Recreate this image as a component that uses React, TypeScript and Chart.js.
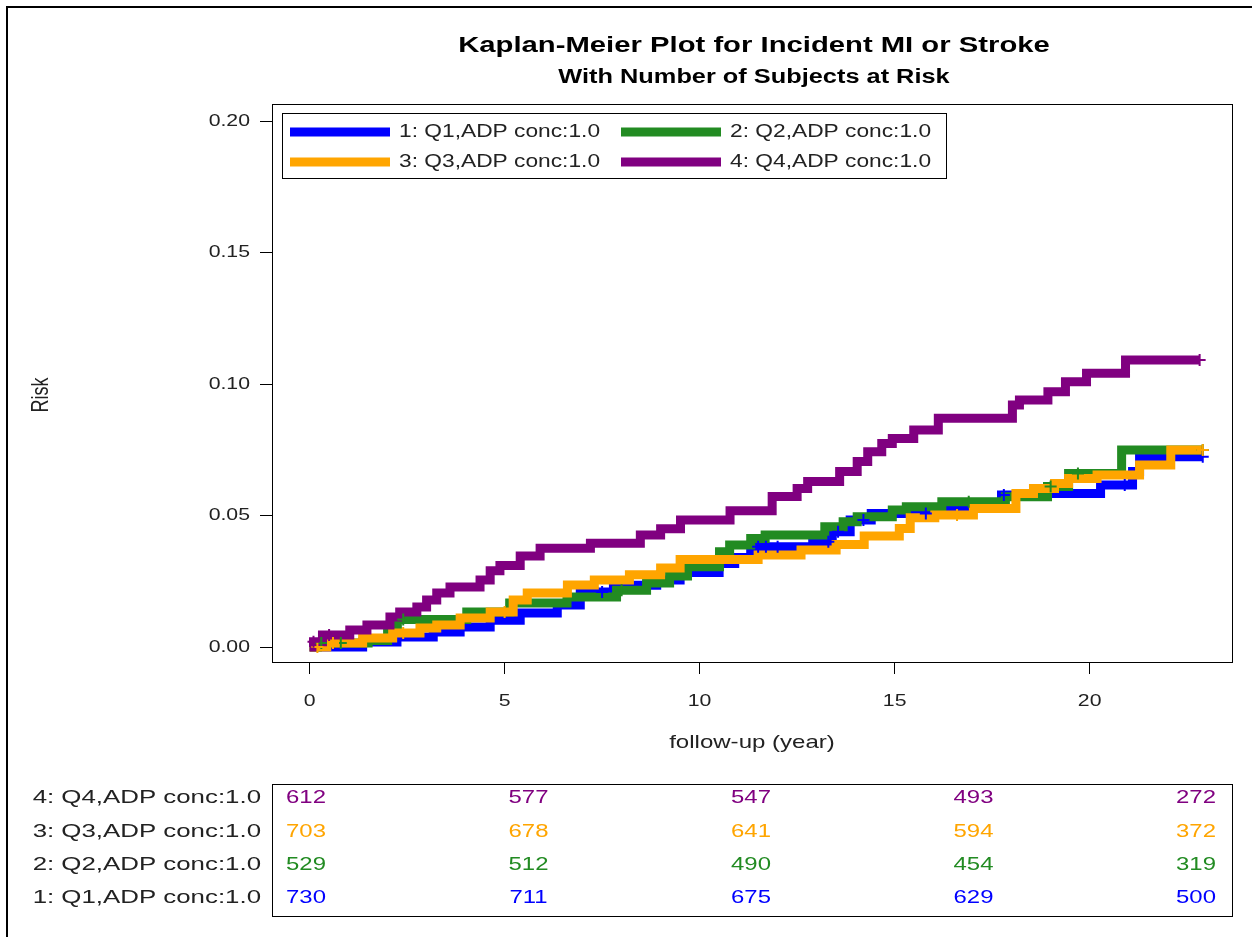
import React, { useEffect, useRef } from "react";
import { Chart, registerables } from "chart.js";
Chart.register(...registerables);

const TITLE = "Kaplan-Meier Plot for Incident MI or Stroke";
const SUBTITLE = "With Number of Subjects at Risk";
const X_TITLE = "follow-up (year)";
const Y_TITLE = "Risk";
const GROUPS = ["1: Q1,ADP conc:1.0", "2: Q2,ADP conc:1.0", "3: Q3,ADP conc:1.0", "4: Q4,ADP conc:1.0"];
const COLORS = ["#0000FF", "#228B22", "#FFA500", "#800080"];
const X_TICKS = [0, 5, 10, 15, 20];
const Y_TICKS = [0, 0.05, 0.1, 0.15, 0.2];

// Step curves (time in years, cumulative risk)
const Q1_T = [0, 1.36, 2.24, 3.17, 3.86, 4.63, 5.4, 6.35, 6.94, 7.79, 8.9, 9.5, 10.5, 10.9, 11.31, 12.9, 13.4, 13.86, 14.4, 16.03, 17.74, 18.84, 20.28, 21.1, 21.28, 22.9];
const Q1_R = [0, 0.0019, 0.0038, 0.0057, 0.0076, 0.0102, 0.0129, 0.016, 0.0209, 0.0235, 0.0255, 0.0283, 0.0318, 0.034, 0.0381, 0.04, 0.0438, 0.0483, 0.0508, 0.0527, 0.0578, 0.0584, 0.0616, 0.0667, 0.0724, 0.0724];
const Q2_T = [0, 0.2, 1.5, 2.0, 2.25, 4.03, 5.13, 6.6, 7.87, 8.64, 9.23, 9.69, 10.51, 10.77, 11.31, 11.68, 13.21, 13.68, 14.04, 14.94, 15.3, 16.21, 17.84, 18.92, 19.46, 20.82, 22.9];
const Q2_R = [0, 0.0015, 0.0025, 0.006, 0.0105, 0.0133, 0.0167, 0.019, 0.0216, 0.0243, 0.027, 0.0305, 0.0362, 0.0388, 0.0413, 0.0426, 0.0457, 0.0476, 0.0495, 0.0521, 0.0533, 0.0552, 0.0571, 0.061, 0.066, 0.0749, 0.0749];
const Q3_T = [0, 0.44, 1.36, 2.13, 2.83, 3.26, 3.86, 4.63, 5.22, 5.58, 6.61, 7.3, 8.2, 9.0, 9.5, 11.5, 12.6, 13.5, 14.22, 15.12, 15.4, 16.03, 17.02, 18.11, 18.56, 19.1, 19.46, 20.19, 21.28, 22.08, 22.9];
const Q3_R = [0, 0.0015, 0.0034, 0.0053, 0.0072, 0.0084, 0.011, 0.0133, 0.0179, 0.0205, 0.0236, 0.0255, 0.0275, 0.03, 0.0333, 0.035, 0.0369, 0.039, 0.0422, 0.0451, 0.0492, 0.0502, 0.0527, 0.0584, 0.0603, 0.0622, 0.0641, 0.0654, 0.0692, 0.0749, 0.0749];
const Q4_T = [0, 0.1, 0.33, 1.03, 1.47, 2.06, 2.31, 2.75, 3.0, 3.26, 3.6, 4.37, 4.63, 4.88, 5.4, 5.91, 7.2, 8.48, 9.0, 9.51, 10.78, 11.86, 12.5, 12.77, 13.59, 14.04, 14.31, 14.67, 14.94, 15.49, 16.12, 18.02, 18.2, 18.93, 19.38, 19.92, 20.92, 22.82];
const Q4_R = [0, 0.002, 0.0046, 0.0065, 0.0084, 0.0114, 0.0133, 0.0152, 0.0179, 0.0205, 0.0228, 0.0255, 0.029, 0.031, 0.0346, 0.0376, 0.0395, 0.0426, 0.045, 0.0483, 0.0518, 0.0572, 0.0603, 0.0629, 0.0667, 0.0705, 0.0743, 0.0774, 0.0793, 0.0825, 0.087, 0.092, 0.0939, 0.0971, 0.1009, 0.1041, 0.1091, 0.1091];

// Censoring times (+ marks)
const Q1_CENSOR = [7.5, 11.5, 11.7, 12.0, 13.3, 13.55, 14.2, 15.8, 17.8, 20.9, 22.9];
const Q2_CENSOR = [0.3, 0.8, 2.4, 8.0, 16.9, 19.0, 19.7, 22.9];
const Q3_CENSOR = [0.2, 0.6, 2.4, 5.0, 16.6, 22.9];
const Q4_CENSOR = [0.1, 0.5, 22.82];

// Number at risk table
const AT_RISK_Q1 = [730, 711, 675, 629, 500];
const AT_RISK_Q2 = [529, 512, 490, 454, 319];
const AT_RISK_Q3 = [703, 678, 641, 594, 372];
const AT_RISK_Q4 = [612, 577, 547, 493, 272];

const FONT = '"Liberation Sans", Arial, Helvetica, sans-serif';

function stepValue(T: number[], R: number[], t: number) {
  let v = R[0];
  for (let i = 0; i < T.length; i++) if (T[i] <= t) v = R[i];
  return v;
}

function txt(ctx: CanvasRenderingContext2D, s: string, x: number, y: number, font: string, color: string, align: CanvasTextAlign, sx: number, rot = 0) {
  ctx.save();
  ctx.font = font;
  ctx.fillStyle = color;
  ctx.textAlign = align;
  ctx.textBaseline = "middle";
  ctx.translate(x, y);
  ctx.scale(sx, 1);
  if (rot) ctx.rotate(rot);
  ctx.fillText(s, 0, 0);
  ctx.restore();
}

export default function App() {
  const ref = useRef<HTMLCanvasElement | null>(null);
  useEffect(() => {
    if (!ref.current) return;
    const series = [
      { T: Q1_T, R: Q1_R, C: Q1_CENSOR, risk: AT_RISK_Q1 },
      { T: Q2_T, R: Q2_R, C: Q2_CENSOR, risk: AT_RISK_Q2 },
      { T: Q3_T, R: Q3_R, C: Q3_CENSOR, risk: AT_RISK_Q3 },
      { T: Q4_T, R: Q4_R, C: Q4_CENSOR, risk: AT_RISK_Q4 },
    ];
    const datasets: any[] = [];
    series.forEach((s, i) => {
      datasets.push({
        label: GROUPS[i],
        data: s.T.map((t, k) => ({ x: t, y: s.R[k] })),
        borderColor: COLORS[i],
        backgroundColor: COLORS[i],
        borderWidth: 9,
        stepped: "before",
        pointRadius: 0,
        borderJoinStyle: "miter",
        borderCapStyle: "butt",
        fill: false,
        order: 8 - i,
      });
    });
    series.forEach((s, i) => {
      datasets.push({
        label: GROUPS[i] + " censored",
        data: s.C.map((t) => ({ x: t, y: stepValue(s.T, s.R, t) })),
        showLine: false,
        pointStyle: "cross",
        pointRadius: 6,
        pointBorderWidth: 2,
        borderColor: COLORS[i],
        backgroundColor: COLORS[i],
        order: 4 - i,
      });
    });

    const overlay = {
      id: "overlay",
      afterDraw(chart: any) {
        const ctx: CanvasRenderingContext2D = chart.ctx;
        const ca = chart.chartArea;
        const xs = chart.scales.x;
        const ys = chart.scales.y;
        ctx.save();
        ctx.fillStyle = "#000";
        ctx.fillRect(6, 6, 1246, 2);
        ctx.fillRect(6, 6, 2, 931);
        ctx.strokeStyle = "#000";
        ctx.lineWidth = 1;
        ctx.strokeRect(Math.round(ca.left) + 0.5, Math.round(ca.top) + 0.5, Math.round(ca.right - ca.left), Math.round(ca.bottom - ca.top));
        ctx.restore();

        const cx = (ca.left + ca.right) / 2;
        txt(ctx, TITLE, cx + 2, 46, `bold 22.5px ${FONT}`, "#000", "center", 1.3);
        txt(ctx, SUBTITLE, cx + 2, 78, `bold 19.5px ${FONT}`, "#000", "center", 1.3);

        X_TICKS.forEach((v) => txt(ctx, String(v), xs.getPixelForValue(v), 701, `17px ${FONT}`, "#222", "center", 1.25));
        Y_TICKS.forEach((v) => txt(ctx, v.toFixed(2), ca.left - 22, ys.getPixelForValue(v), `17px ${FONT}`, "#222", "right", 1.25));
        txt(ctx, X_TITLE, cx, 743, `18.5px ${FONT}`, "#222", "center", 1.3);
        txt(ctx, Y_TITLE, 42, 395, `18px ${FONT}`, "#222", "center", 1.3, -Math.PI / 2);

        const lx = 282, ly = 113, lw = 664, lh = 65;
        ctx.save();
        ctx.fillStyle = "#fff";
        ctx.fillRect(lx, ly, lw, lh);
        ctx.strokeStyle = "#000";
        ctx.lineWidth = 1;
        ctx.strokeRect(lx + 0.5, ly + 0.5, lw, lh);
        ctx.restore();
        const cols = [290, 621];
        const rows = [132, 162];
        GROUPS.forEach((g, i) => {
          const c = i % 2, r = Math.floor(i / 2);
          ctx.save();
          ctx.fillStyle = COLORS[i];
          ctx.fillRect(cols[c], rows[r] - 4.5, 100, 9);
          ctx.restore();
          txt(ctx, g, cols[c] + 109, rows[r], `17.5px ${FONT}`, "#222", "left", 1.3);
        });

        const tl = 272, tr = 1232, tt = 784, tb = 916;
        ctx.save();
        ctx.strokeStyle = "#000";
        ctx.lineWidth = 1;
        ctx.strokeRect(tl + 0.5, tt + 0.5, tr - tl, tb - tt);
        ctx.restore();
        const rowY = [798, 832, 865, 898];
        const order = [3, 2, 1, 0];
        order.forEach((gi, r) => {
          txt(ctx, GROUPS[gi], 261, rowY[r], `19px ${FONT}`, "#222", "right", 1.36);
          const vals = series[gi].risk;
          const n = vals.length;
          vals.forEach((v, k) => {
            const colX = 306 + ((1196 - 306) * k) / (n - 1);
            txt(ctx, String(v), colX, rowY[r], `18px ${FONT}`, COLORS[gi], "center", 1.33);
          });
        });
      },
    };

    const chart = new Chart(ref.current, {
      type: "line",
      data: { datasets },
      options: {
        animation: false,
        responsive: false,
        events: [],
        layout: { padding: { left: 0, top: 104, right: 20, bottom: 0 } },
        plugins: { legend: { display: false }, tooltip: { enabled: false }, title: { display: false } },
        scales: {
          x: {
            type: "linear",
            min: -0.964,
            max: 23.65,
            afterBuildTicks: (s: any) => { s.ticks = X_TICKS.map((v) => ({ value: v })); },
            afterFit: (s: any) => { s.height = 275; },
            ticks: { display: false },
            grid: { drawOnChartArea: false, drawTicks: true, tickLength: 12, color: "#000" },
            border: { display: true, color: "#000", width: 1 },
          },
          y: {
            type: "linear",
            min: -0.0057,
            max: 0.2065,
            afterBuildTicks: (s: any) => { s.ticks = Y_TICKS.map((v) => ({ value: v })); },
            afterFit: (s: any) => { s.width = 272; },
            ticks: { display: false },
            grid: { drawOnChartArea: false, drawTicks: true, tickLength: 12, color: "#000" },
            border: { display: true, color: "#000", width: 1 },
          },
        },
      } as any,
      plugins: [overlay],
    });
    return () => chart.destroy();
  }, []);
  return (
    <canvas
      ref={ref}
      width={1252}
      height={937}
      style={{ position: "absolute", left: 0, top: 0, width: 1252, height: 937 }}
    />
  );
}
